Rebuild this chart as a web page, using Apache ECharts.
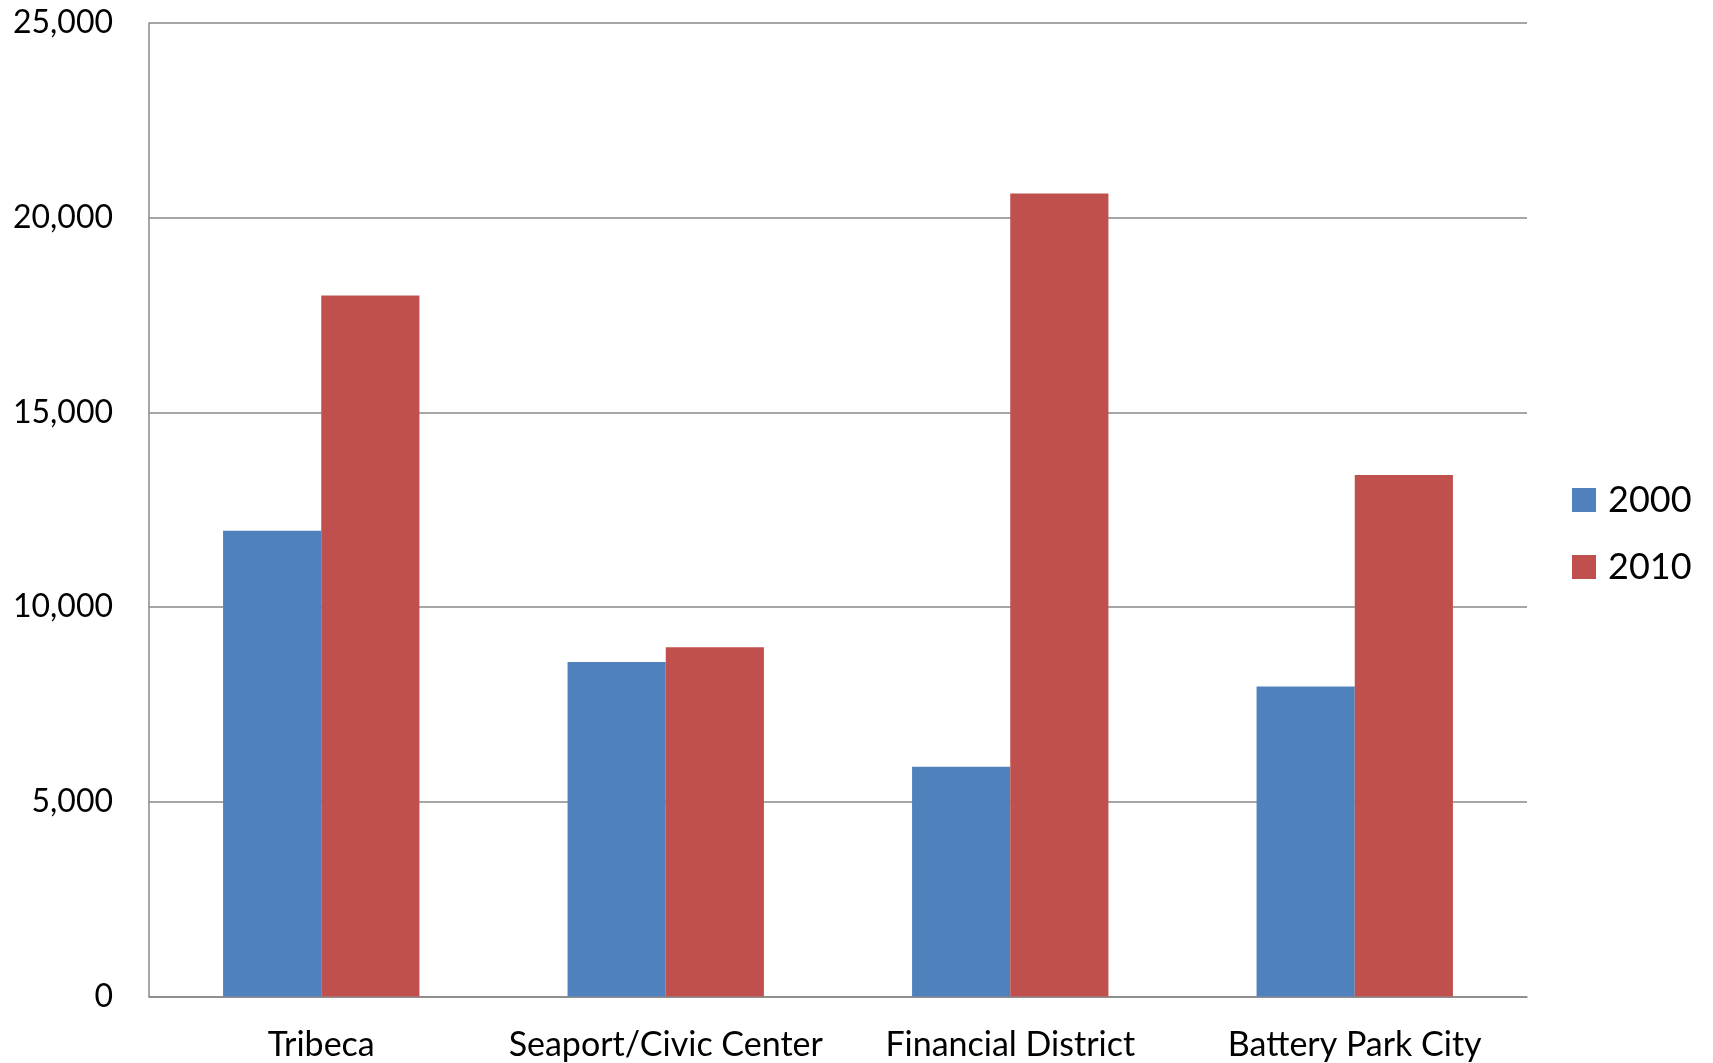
<!DOCTYPE html>
<html>
<head>
<meta charset="utf-8">
<script src="https://cdn.jsdelivr.net/npm/echarts@6/dist/echarts.min.js"></script>
<style>
html,body{margin:0;padding:0;background:#fff;}
#chart{width:1713px;height:1063px;}
</style>
</head>
<body>
<div id="chart"></div>
<script>
const categories = ['Tribeca', 'Seaport/Civic Center', 'Financial District', 'Battery Park City'];
const values2000 = [11960, 8590, 5900, 7960];
const values2010 = [18000, 8970, 20620, 13390];
const seriesNames = ['2000', '2010'];
const yMin = 0, yMax = 25000, yStep = 5000;

const chart = echarts.init(document.getElementById('chart'));
const font = 'Lato, "Open Sans", sans-serif';
chart.setOption({
  animation: false,
  backgroundColor: '#ffffff',
  color: ['#4F81BD', '#C0504D'],
  grid: { left: 149, right: 186, top: 23, bottom: 66.5, containLabel: false },
  legend: {
    orient: 'vertical',
    left: 1567, top: 477,
    itemWidth: 24, itemHeight: 24, itemGap: 31,
    icon: 'rect',
    textStyle: { fontFamily: font, fontSize: 36, color: '#000', padding: [0, 0, 0, 7] },
    data: seriesNames
  },
  xAxis: {
    type: 'category',
    data: categories,
    axisLine: { show: true, lineStyle: { color: '#888888', width: 1.5 } },
    axisTick: { show: false },
    axisLabel: { color: '#000', fontFamily: font, fontSize: 34, margin: 32, interval: 0 }
  },
  yAxis: {
    type: 'value',
    min: yMin, max: yMax, interval: yStep,
    axisLine: { show: true, lineStyle: { color: '#888888', width: 1.5 } },
    axisTick: { show: false },
    splitLine: { show: true, lineStyle: { color: '#888888', width: 1.5 } },
    axisLabel: {
      color: '#000', fontFamily: font, fontSize: 32, margin: 36,
      formatter: v => v.toLocaleString('en-US')
    }
  },
  series: [
    { name: seriesNames[0], type: 'bar', data: values2000, barGap: '0%', barCategoryGap: '43%' },
    { name: seriesNames[1], type: 'bar', data: values2010, barGap: '0%', barCategoryGap: '43%' }
  ]
});
</script>
</body>
</html>
